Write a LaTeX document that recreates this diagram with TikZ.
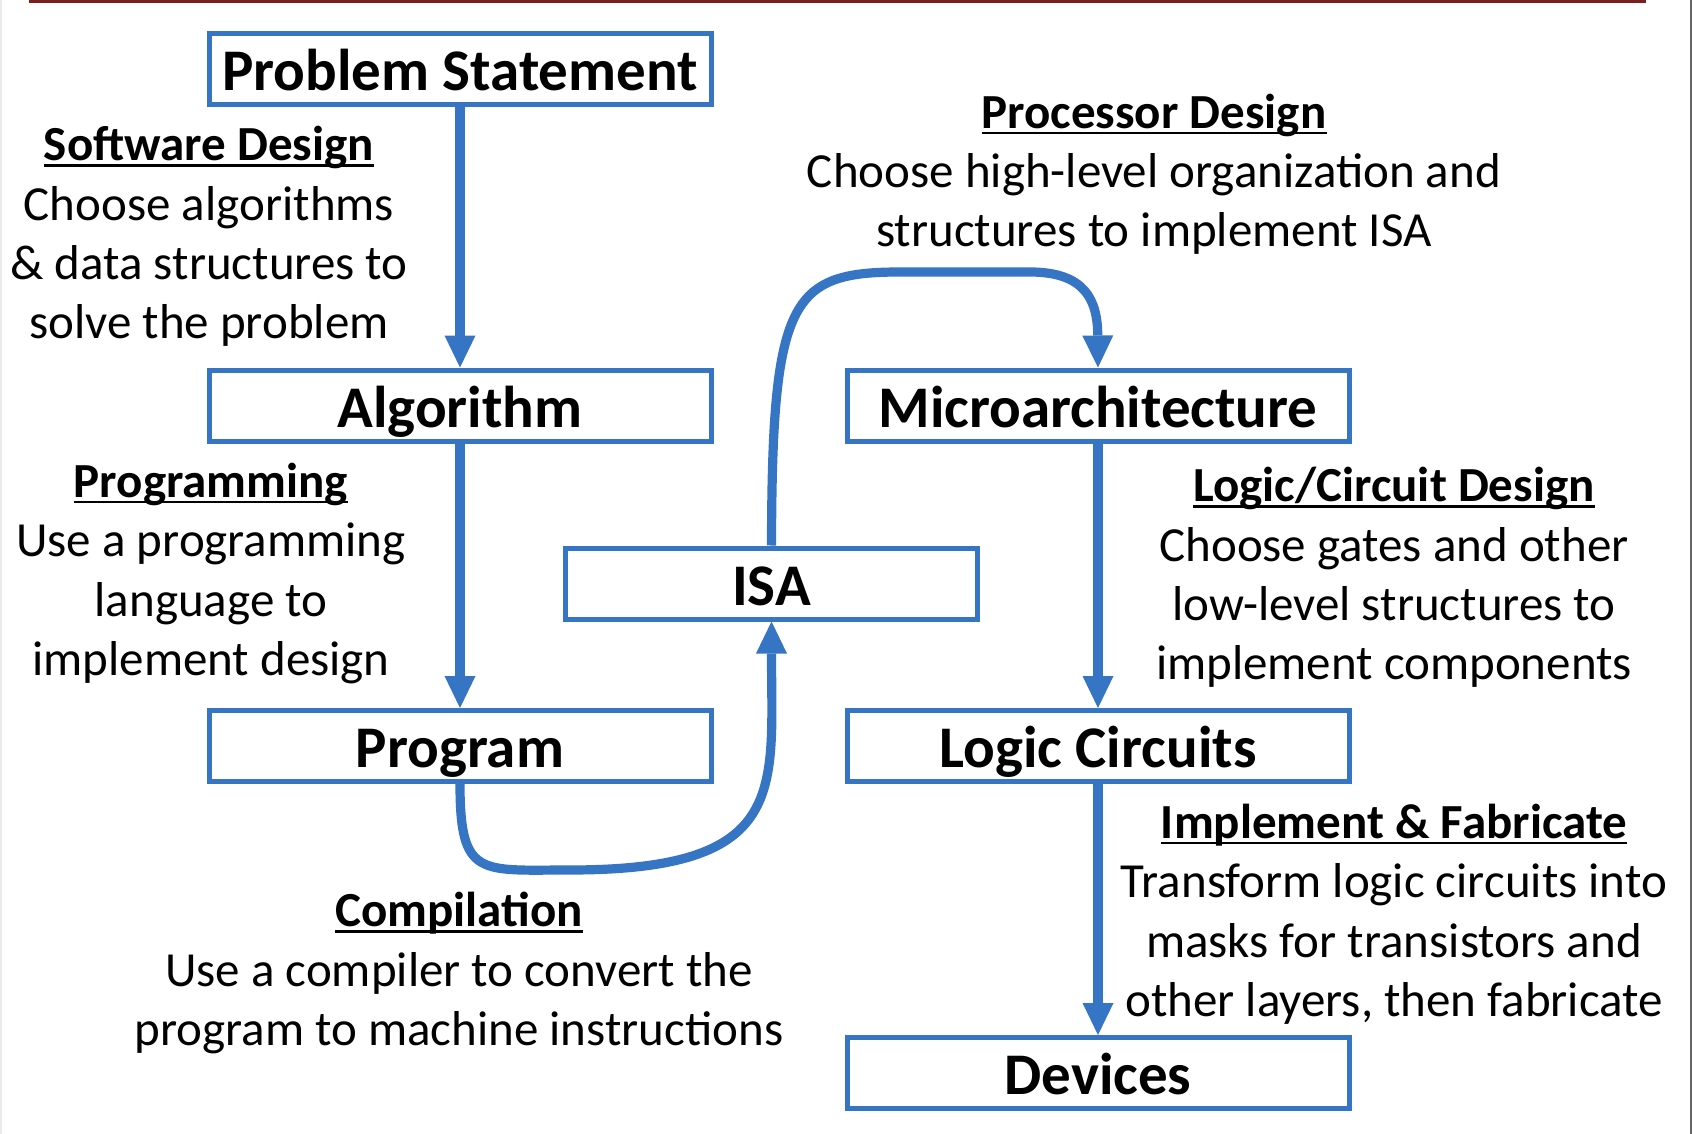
\documentclass[tikz,border=0pt]{standalone}
\usepackage{fontspec}
\setmainfont{Carlito}
\usetikzlibrary{arrows.meta}
\definecolor{boxblue}{RGB}{54,117,196}
\definecolor{topred}{RGB}{122,30,32}
\newcommand\ulbf[1]{\setbox0\hbox{\bfseries #1}\rlap{\rule[-3pt]{\wd0}{1.4pt}}\box0}
\newcommand\txtblock[1]{\vtop{\baselineskip=29.65pt\lineskiplimit=-20pt\halign{\hfil##\hfil\cr#1\crcr}}}
\begin{document}
\begin{tikzpicture}[x=0.5pt,y=-0.5pt,
  box/.style={draw=boxblue,line width=2.5pt,minimum width=251pt,minimum height=35.5pt,inner sep=0pt,
    font=\fontsize{29.5}{35}\selectfont\bfseries,text height=21.9pt,text depth=0pt},
  flow/.style={draw=boxblue,line width=4.6pt,-{Triangle[width=15.5pt,length=16pt,line width=0pt]}},
  desc/.style={inner sep=0pt,anchor=base,font=\fontsize{24.5}{29.65}\selectfont}]
\useasboundingbox (0,0) rectangle (1692,1134);
\fill[white] (0,0) rectangle (1692,1134);
\fill[topred] (29,0) rectangle (1646,3);
\fill[black!8] (0,0) rectangle (1.5,1134);
\fill[black!60] (1689.5,0) rectangle (1692,1134);

\node[box] (prob) at (460,69) {Problem Statement};
\node[box] (alg) at (460,405.5) {Algorithm};
\node[box] (prog) at (460,746) {Program};
\node[box,minimum width=206pt] (isa) at (771.5,583.5) {ISA};
\node[box] (micro) at (1098,405.5) {Microarchitecture};
\node[box] (logic) at (1098,746) {Logic Circuits};
\node[box] (dev) at (1098,1073) {Devices};

\node[desc] (sw) at (209,160.8) {\txtblock{\ulbf{Software Design}\cr Choose algorithms\cr \& data structures to\cr solve the problem}};
\node[desc] (pg) at (211,497.4) {\txtblock{\ulbf{Programming}\cr Use a programming\cr language to\cr implement design}};
\node[desc] (pd) at (1154,128.4) {\txtblock{\ulbf{Processor Design}\cr Choose high-level organization and\cr structures to implement ISA}};
\node[desc] (lc) at (1394,501.7) {\txtblock{\ulbf{Logic/Circuit Design}\cr Choose gates and other\cr low-level structures to\cr implement components}};
\node[desc] (im) at (1394,838.4) {\txtblock{\ulbf{Implement \& Fabricate}\cr Transform logic circuits into\cr masks for transistors and\cr other layers, then fabricate}};
\node[desc] (cp) at (459,926.9) {\txtblock{\ulbf{Compilation}\cr Use a compiler to convert the\cr program to machine instructions}};

\draw[flow] (prob) -- (alg);
\draw[flow] (alg) -- (prog);
\draw[flow] (micro) -- (logic);
\draw[flow] (logic) -- (dev);
\draw[flow] (prog.south) .. controls (460,878) and (480,870) .. (570,870) .. controls (790,870) and (771.5,790) .. (isa.south);
\draw[flow] (isa.north) .. controls (772,300) and (790,272) .. (900,272) -- (1030,272) .. controls (1085,272) and (1097.5,300) .. (micro.north);
\end{tikzpicture}
\end{document}
